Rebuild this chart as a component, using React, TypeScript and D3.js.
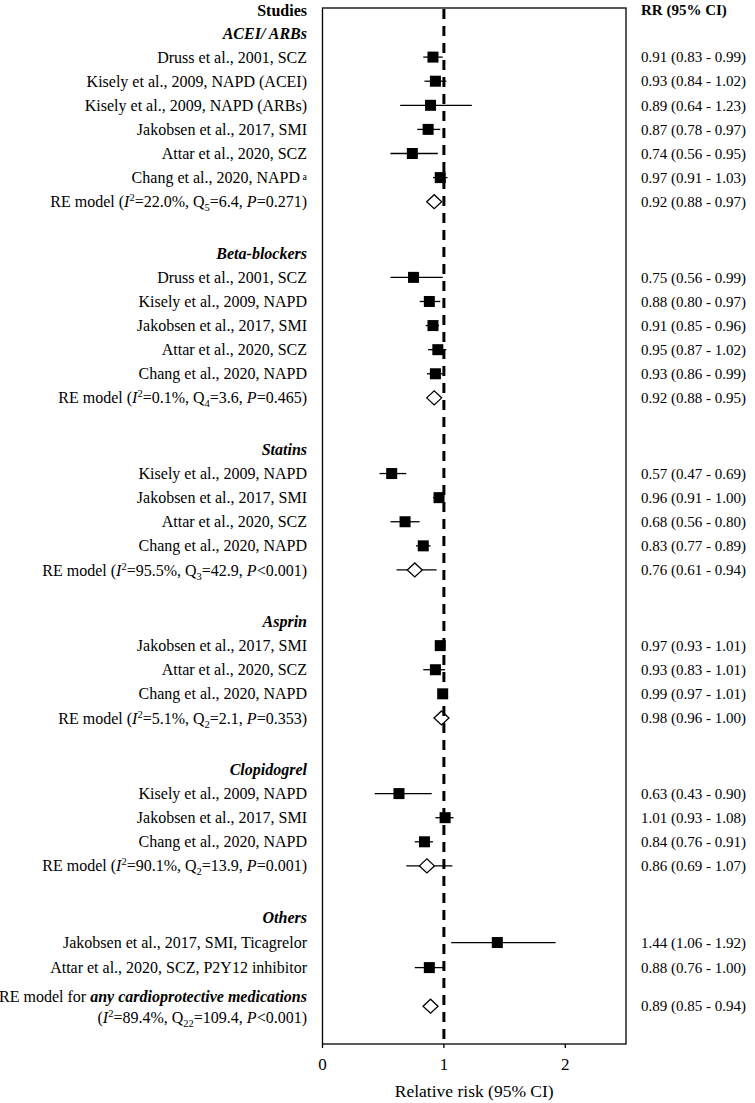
import React from "react";
import * as d3 from "d3";

const groupNames = ["ACEI/ ARBs", "Beta-blockers", "Statins", "Asprin", "Clopidogrel", "Others"];

const studyLabels = [
  "Druss et al., 2001, SCZ", "Kisely et al., 2009, NAPD (ACEI)", "Kisely et al., 2009, NAPD (ARBs)",
  "Jakobsen et al., 2017, SMI", "Attar et al., 2020, SCZ", "Chang et al., 2020, NAPD",
  "Druss et al., 2001, SCZ", "Kisely et al., 2009, NAPD", "Jakobsen et al., 2017, SMI",
  "Attar et al., 2020, SCZ", "Chang et al., 2020, NAPD",
  "Kisely et al., 2009, NAPD", "Jakobsen et al., 2017, SMI", "Attar et al., 2020, SCZ", "Chang et al., 2020, NAPD",
  "Jakobsen et al., 2017, SMI", "Attar et al., 2020, SCZ", "Chang et al., 2020, NAPD",
  "Kisely et al., 2009, NAPD", "Jakobsen et al., 2017, SMI", "Chang et al., 2020, NAPD",
  "Jakobsen et al., 2017, SMI, Ticagrelor", "Attar et al., 2020, SCZ, P2Y12 inhibitor",
];
const studyNote = ["", "", "", "", "", "a", "", "", "", "", "", "", "", "", "", "", "", "", "", "", "", "", ""];
const studyGroup = [0, 0, 0, 0, 0, 0, 1, 1, 1, 1, 1, 2, 2, 2, 2, 3, 3, 3, 4, 4, 4, 5, 5];
const studyRR = [0.91, 0.93, 0.89, 0.87, 0.74, 0.97, 0.75, 0.88, 0.91, 0.95, 0.93, 0.57, 0.96, 0.68, 0.83, 0.97, 0.93, 0.99, 0.63, 1.01, 0.84, 1.44, 0.88];
const studyLo = [0.83, 0.84, 0.64, 0.78, 0.56, 0.91, 0.56, 0.80, 0.85, 0.87, 0.86, 0.47, 0.91, 0.56, 0.77, 0.93, 0.83, 0.97, 0.43, 0.93, 0.76, 1.06, 0.76];
const studyHi = [0.99, 1.02, 1.23, 0.97, 0.95, 1.03, 0.99, 0.97, 0.96, 1.02, 0.99, 0.69, 1.00, 0.80, 0.89, 1.01, 1.01, 1.01, 0.90, 1.08, 0.91, 1.92, 1.00];

// random-effects summaries per group (Others has none)
const reRR = [0.92, 0.92, 0.76, 0.98, 0.86];
const reLo = [0.88, 0.88, 0.61, 0.96, 0.69];
const reHi = [0.97, 0.95, 0.94, 1.00, 1.07];
const reI2 = ["22.0", "0.1", "95.5", "5.1", "90.1"];
const reQdf = ["5", "4", "3", "2", "2"];
const reQ = ["6.4", "3.6", "42.9", "2.1", "13.9"];
const reP = ["=0.271", "=0.465", "<0.001", "=0.353", "=0.001"];

const overall = { rr: 0.89, lo: 0.85, hi: 0.94, i2: "89.4", qdf: "22", q: "109.4", p: "<0.001" };

const xTicks = [0, 1, 2];

const FONT = "'Liberation Serif', 'Times New Roman', serif";
const FS = 16;
const FSV = 15;

type Row =
  | { kind: "header"; g: number; u: number }
  | { kind: "study"; i: number; u: number }
  | { kind: "re"; g: number; u: number };

function buildRows() {
  const rows: Row[] = [];
  let u = 0;
  groupNames.forEach((_, g) => {
    if (g > 0) u += 2.14;
    rows.push({ kind: "header", g, u });
    studyGroup.forEach((sg, i) => {
      if (sg === g) {
        u += g === groupNames.length - 1 ? 1.04 : 1;
        rows.push({ kind: "study", i, u });
      }
    });
    if (g < reRR.length) {
      u += 1;
      rows.push({ kind: "re", g, u });
    }
  });
  return { rows, overallU: u + 1.6 };
}

const fmt = d3.format(".2f");
const ciText = (r: number, l: number, h: number) => `${fmt(r)} (${fmt(l)} - ${fmt(h)})`;

function StatsSpans({ i2, qdf, q, p }: { i2: string; qdf: string; q: string; p: string }) {
  return (
    <>
      <tspan fontStyle="italic">I</tspan>
      <tspan fontSize={10.5} dy={-6}>2</tspan>
      <tspan dy={6}>{`=${i2}%, Q`}</tspan>
      <tspan fontSize={10.5} dy={4}>{qdf}</tspan>
      <tspan dy={-4}>{`=${q}, `}</tspan>
      <tspan fontStyle="italic">P</tspan>
      <tspan>{`${p})`}</tspan>
    </>
  );
}

export default function App() {
  const W = 755;
  const H = 1103;
  const boxL = 322.5;
  const boxR = 626;
  const boxT = 8;
  const boxB = 1044;
  const labelX = 307;
  const valueX = 641;

  const x = d3.scaleLinear().domain([0, 2.5]).range([boxL, boxR]);
  const { rows, overallU } = buildRows();
  const y = d3.scaleLinear().domain([0, 1]).range([33, 57.1]);

  const sq = 11;
  const diamond = (cx: number, cy: number) => {
    const hw = 7.5, hh = 7;
    return `M${cx - hw},${cy}L${cx},${cy - hh}L${cx + hw},${cy}L${cx},${cy + hh}Z`;
  };

  const oy = y(overallU);

  return (
    <svg width={W} height={H} style={{ position: "absolute", left: 0, top: 0, background: "#fff" }} fontFamily={FONT} fontSize={FS}>
      <rect x={0} y={0} width={W} height={H} fill="#fff" />
      {/* box */}
      <rect x={boxL} y={boxT} width={boxR - boxL} height={boxB - boxT} fill="none" stroke="#000" strokeWidth={1.3} />
      {/* column headers */}
      <text x={labelX} y={10} dy="0.35em" textAnchor="end" fontWeight="bold">Studies</text>
      <text x={valueX} y={10} dy="0.35em" fontWeight="bold" fontSize={FSV}>RR (95% CI)</text>

      {rows.map((r, k) => {
        const cy = y(r.u);
        if (r.kind === "header") {
          return (
            <text key={k} x={labelX} y={cy} dy="0.35em" textAnchor="end" fontWeight="bold" fontStyle="italic">
              {groupNames[r.g]}
            </text>
          );
        }
        if (r.kind === "study") {
          const i = r.i;
          return (
            <g key={k}>
              <text x={labelX} y={cy} dy="0.35em" textAnchor="end">
                {studyLabels[i]}
                {studyNote[i] ? <tspan fontSize={10} dy={-3}>{" " + studyNote[i]}</tspan> : null}
              </text>
              <line x1={x(studyLo[i])} x2={x(studyHi[i])} y1={cy} y2={cy} stroke="#000" strokeWidth={1.3} />
              <rect x={x(studyRR[i]) - sq / 2} y={cy - sq / 2} width={sq} height={sq} fill="#000" />
              <text x={valueX} y={cy} dy="0.35em" fontSize={FSV}>{ciText(studyRR[i], studyLo[i], studyHi[i])}</text>
            </g>
          );
        }
        const g = r.g;
        return (
          <g key={k}>
            <text x={labelX} y={cy} dy="0.35em" textAnchor="end">
              <tspan>RE model (</tspan>
              <StatsSpans i2={reI2[g]} qdf={reQdf[g]} q={reQ[g]} p={reP[g]} />
            </text>
            <line x1={x(reLo[g])} x2={x(reHi[g])} y1={cy} y2={cy} stroke="#000" strokeWidth={1.3} />
            <path d={diamond(x(reRR[g]), cy)} fill="#fff" stroke="#000" strokeWidth={1.3} />
            <text x={valueX} y={cy} dy="0.35em" fontSize={FSV}>{ciText(reRR[g], reLo[g], reHi[g])}</text>
          </g>
        );
      })}

      {/* overall */}
      <text x={labelX} y={oy - 10} dy="0.35em" textAnchor="end">
        <tspan>RE model for </tspan>
        <tspan fontWeight="bold" fontStyle="italic">any cardioprotective medications</tspan>
      </text>
      <text x={labelX} y={oy + 11} dy="0.35em" textAnchor="end">
        <tspan>(</tspan>
        <StatsSpans i2={overall.i2} qdf={overall.qdf} q={overall.q} p={overall.p} />
      </text>
      <line x1={x(overall.lo)} x2={x(overall.hi)} y1={oy} y2={oy} stroke="#000" strokeWidth={1.3} />
      <path d={diamond(x(overall.rr), oy)} fill="#fff" stroke="#000" strokeWidth={1.3} />
      <text x={valueX} y={oy} dy="0.35em" fontSize={FSV}>{ciText(overall.rr, overall.lo, overall.hi)}</text>

      {/* reference line */}
      <line x1={x(1)} x2={x(1)} y1={boxT + 1} y2={boxB} stroke="#000" strokeWidth={3} strokeDasharray="10,7" />

      {/* x axis */}
      {xTicks.map((t) => (
        <g key={t}>
          <line x1={x(t)} x2={x(t)} y1={boxB} y2={boxB + 4} stroke="#000" strokeWidth={1.3} />
          <text x={x(t)} y={boxB + 20} dy="0.35em" textAnchor="middle" fontSize={17}>{t}</text>
        </g>
      ))}
      <text x={(boxL + boxR) / 2} y={boxB + 47} dy="0.35em" textAnchor="middle" fontSize={17.5}>Relative risk (95% CI)</text>
    </svg>
  );
}
